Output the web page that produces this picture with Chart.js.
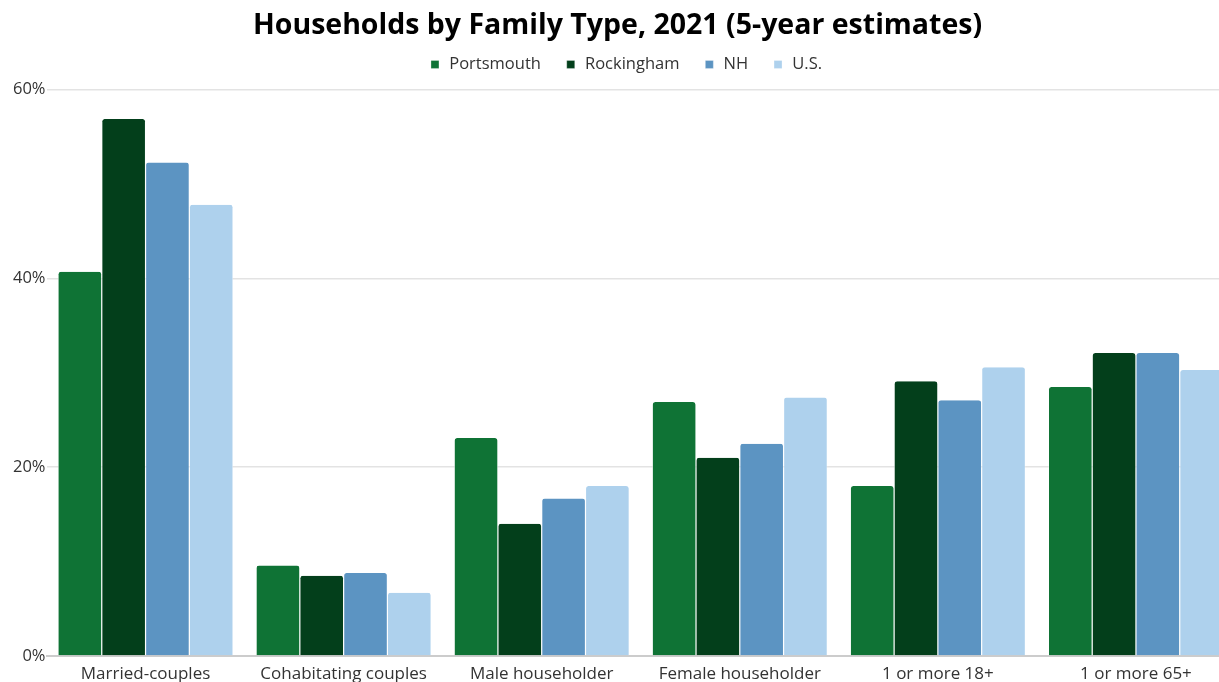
<!DOCTYPE html>
<html>
<head>
<meta charset="utf-8">
<script src="https://cdn.jsdelivr.net/npm/chart.js@4.4.0/dist/chart.umd.min.js"></script>
<style>
  html, body { margin: 0; padding: 0; background: #fff; overflow: hidden; }
  #wrap { position: relative; width: 1235px; height: 686px; }
</style>
</head>
<body>
<div id="wrap"><canvas id="chart"></canvas></div>
<script>
// Chart values
const categories = ["Married-couples", "Cohabitating couples", "Male householder", "Female householder", "1 or more 18+", "1 or more 65+"];
const portsmouth = [40.7, 9.6, 23.1, 26.9, 18.0, 28.5];
const rockingham = [56.9, 8.5, 14.0, 21.0, 29.1, 32.1];
const nh = [52.3, 8.8, 16.7, 22.5, 27.1, 32.1];
const us = [47.8, 6.7, 18.0, 27.4, 30.6, 30.3];
const yTicks = [0, 20, 40, 60];

const COLORS = {
  portsmouth: '#0f7335',
  rockingham: '#033f1b',
  nh: '#5c94c2',
  us: '#aed1ed'
};

function makeDataset(label, data, color) {
  return {
    label: label,
    data: data,
    backgroundColor: color,
    borderColor: '#ffffff',
    borderWidth: { left: 0.6, right: 0.6, top: 0, bottom: 0 },
    borderSkipped: 'bottom',
    borderRadius: { topLeft: 3, topRight: 3, bottomLeft: 0, bottomRight: 0 },
    categoryPercentage: 0.884,
    barPercentage: 1
  };
}

// empty layout box that sits between the legend and the plot area,
// and a small nudge of the legend to the right
const legendGap = {
  id: 'legendGap',
  beforeInit(chart) {
    const box = {
      position: 'top',
      weight: 0,
      fullSize: true,
      options: {},
      width: 0,
      height: 7,
      left: 0, top: 0, right: 0, bottom: 0,
      isHorizontal() { return true; },
      getPadding() { return { left: 0, top: 0, right: 0, bottom: 0 }; },
      update(maxWidth) { this.width = maxWidth; this.height = 7; },
      draw() {}
    };
    Chart.layouts.addBox(chart, box);
  },
  afterLayout(chart) {
    if (!chart.legend) return;
    chart.legend.left += 8;
    chart.legend.right += 8;
  }
};

const ctx = document.getElementById('chart').getContext('2d');
new Chart(ctx, {
  type: 'bar',
  data: {
    labels: categories,
    datasets: [
      makeDataset('Portsmouth', portsmouth, COLORS.portsmouth),
      makeDataset('Rockingham', rockingham, COLORS.rockingham),
      makeDataset('NH', nh, COLORS.nh),
      makeDataset('U.S.', us, COLORS.us)
    ]
  },
  plugins: [legendGap],
  options: {
    responsive: true,
    maintainAspectRatio: false,
    animation: false,
    layout: { padding: 0 },
    scales: {
      x: {
        grid: { display: false, drawTicks: false },
        border: { display: true, color: '#cccccc', width: 2 },
        ticks: {
          color: '#333333',
          padding: 8,
          maxRotation: 0,
          font: { family: 'Open Sans', size: 17 }
        },
        afterFit: function(scale) { scale.height = 30; }
      },
      y: {
        min: 0,
        max: 60,
        afterBuildTicks: function(scale) {
          scale.ticks = yTicks.map(v => ({ value: v }));
        },
        grid: { color: '#e3e3e3', lineWidth: 1.5, drawTicks: false },
        border: { display: false },
        ticks: {
          color: '#333333',
          padding: 1,
          font: { family: 'Open Sans', size: 16.5 },
          callback: function(value) { return value + '%'; }
        },
        afterFit: function(scale) { scale.width = 46.5; }
      }
    },
    plugins: {
      title: {
        display: true,
        text: 'Households by Family Type, 2021 (5-year estimates)',
        color: '#000000',
        font: { family: 'Open Sans', size: 28.5, weight: 'bold' },
        padding: { top: 9, bottom: 2 }
      },
      legend: {
        display: true,
        position: 'top',
        labels: {
          color: '#333333',
          font: { family: 'Open Sans', size: 16.5 },
          usePointStyle: true,
          pointStyle: 'rect',
          boxWidth: 12,
          boxHeight: 8,
          padding: 11,
          generateLabels: function(chart) {
            const items = Chart.defaults.plugins.legend.labels.generateLabels(chart);
            // widen the gap after every item but the last
            items.forEach((item, i) => {
              if (i < items.length - 1) item.text = item.text + '   ';
            });
            return items;
          }
        }
      },
      tooltip: { enabled: false }
    }
  }
});
</script>
</body>
</html>
